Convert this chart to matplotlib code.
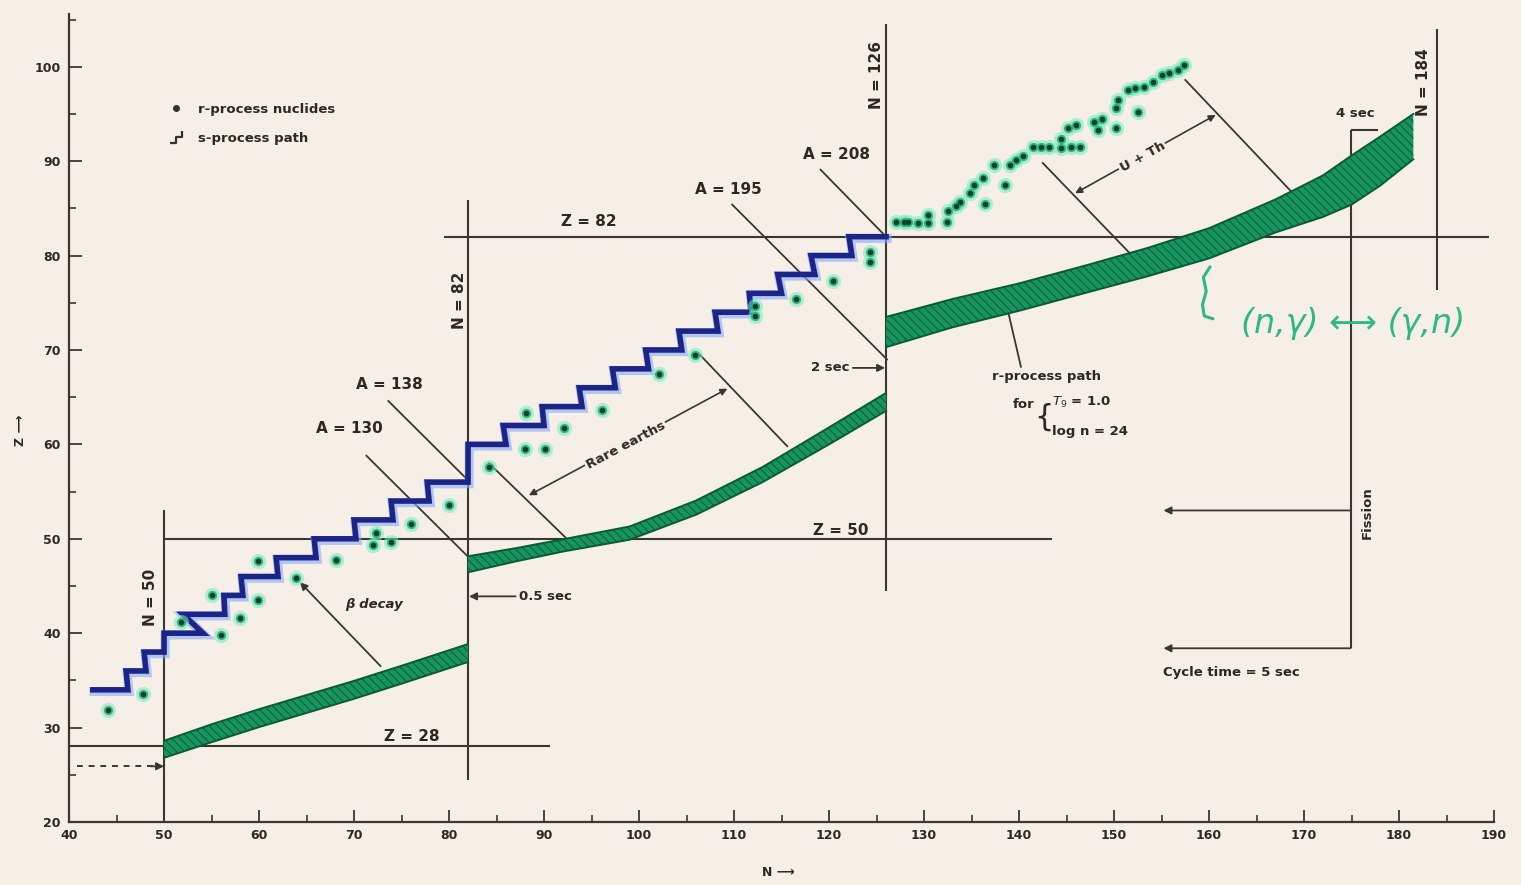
import numpy as np
import matplotlib
matplotlib.use("Agg")
import matplotlib.pyplot as plt
from matplotlib.path import Path
from matplotlib.lines import Line2D

# ---------------- data ----------------
# s-process path: one horizontal run per element (Z, first N, last N)
s_Z = [34, 36, 38, 40, 42, 44, 46, 48, 50, 52, 54, 56,
       60, 62, 64, 66, 68, 70, 72, 74, 76, 78, 80, 82]
s_N_lo = [42.5, 46.0, 47.9, 50.0, 52.0, 56.3, 58.1, 61.8, 65.8, 70.0, 73.9, 77.7,
          82.0, 85.7, 89.8, 93.7, 97.2, 100.7, 104.2, 108.0, 111.6, 114.6, 118.1, 122.1]
s_N_hi = [46.2, 48.1, 50.0, 54.1, 56.4, 58.3, 62.0, 66.0, 70.2, 74.1, 77.9, 82.0,
          86.0, 90.0, 94.0, 97.5, 101.0, 104.5, 108.3, 111.8, 115.0, 118.5, 122.4, 126.0]

# r-process nuclides
r_N = [44.1, 47.8, 51.8, 55.0, 56.0, 58.0, 59.9, 59.9, 63.9, 68.1, 72.0, 72.3, 73.9, 76.0, 80.0,
       84.2, 88.0, 90.1, 88.1, 92.1, 96.1, 102.1, 105.9, 112.2, 112.2, 116.5, 120.4, 124.3, 124.3,
       127.0, 127.9, 128.3, 129.4, 130.4, 130.4, 132.4, 132.5, 133.4, 133.8, 134.8, 135.3, 136.2,
       136.4, 137.4, 138.5, 139.0, 139.7, 140.4, 141.5, 142.3, 143.2, 144.4, 144.4, 145.5, 146.4,
       145.1, 146.0, 147.9, 148.3, 148.7, 150.2, 150.2, 150.4, 151.5, 152.5, 152.2, 153.2, 154.1,
       155.0, 155.8, 156.7, 157.4]
r_Z = [31.9, 33.6, 41.2, 44.0, 39.8, 41.6, 43.5, 47.6, 45.8, 47.8, 49.3, 50.6, 49.7, 51.6, 53.6,
       57.6, 59.5, 59.5, 63.3, 61.7, 63.6, 67.5, 69.5, 73.6, 74.7, 75.4, 77.3, 79.3, 80.4,
       83.6, 83.6, 83.6, 83.4, 83.4, 84.3, 83.6, 84.7, 85.2, 85.7, 86.6, 87.5, 88.2,
       85.5, 89.6, 87.5, 89.6, 90.1, 90.5, 91.5, 91.5, 91.5, 92.4, 91.4, 91.5, 91.5,
       93.5, 93.8, 94.2, 93.3, 94.5, 93.5, 95.6, 96.5, 97.5, 95.2, 97.7, 97.9, 98.4,
       99.1, 99.3, 99.7, 100.2]

# r-process path bands: centre line Z and half width
b1_N = [50, 55, 60, 65, 70, 75, 82]
b1_Z = [27.7, 29.4, 31.0, 32.5, 34.0, 35.6, 37.9]
b1_hw = [0.9, 0.95, 0.95, 0.95, 0.95, 0.95, 0.95]

b2_N = [82, 87, 92, 99, 106, 113, 120, 126]
b2_Z = [47.3, 48.3, 49.3, 50.6, 53.3, 56.8, 60.9, 64.5]
b2_hw = [0.85, 0.7, 0.65, 0.7, 0.75, 0.8, 0.9, 0.95]

b3_N = [126, 133, 140, 147, 153.5, 160, 167, 172, 175, 178, 181.5]
b3_Z = [71.9, 73.9, 75.6, 77.5, 79.3, 81.3, 84.2, 86.3, 88.0, 90.0, 92.6]
b3_hw = [1.6, 1.5, 1.45, 1.45, 1.5, 1.6, 1.75, 2.2, 2.6, 2.6, 2.4]

# closed shells: (Z, N from, N to) and (N, Z from, Z to)
shell_Z = [(28, 40.0, 90.6), (50, 50.0, 143.5), (82, 79.5, 189.5)]
shell_N = [(50, 20.0, 53.1), (82, 24.4, 85.9), (126, 44.5, 104.5), (184, 76.4, 104.0)]

# isobars and decay lines: (N1, Z1, N2, Z2)
isobars = [(71.3, 58.8, 82.0, 48.1),     # A = 130
           (73.6, 64.6, 82.0, 56.2),     # A = 138
           (109.8, 85.4, 126.1, 69.0),   # A = 195
           (119.1, 89.1, 126.0, 82.0),   # A = 208
           (84.2, 58.0, 92.5, 49.9),     # rare earths, lower edge
           (106.3, 69.6, 115.6, 59.8),   # rare earths, upper edge
           (142.5, 89.8, 151.7, 80.2),   # U + Th, lower edge
           (157.5, 98.6, 169.2, 86.2)]   # U + Th, upper edge
beta_decay = (72.8, 36.5, 64.3, 45.4)
rare_earth_span = (88.4, 54.6, 109.3, 65.9)
u_th_span = (145.9, 86.6, 160.7, 94.9)
rpath_pointer = (140.2, 68.2, 138.4, 76.0)

# cycle timing
t_half_N, t_half_Z = 82.0, 43.9
t_two_N, t_two_Z = 126.0, 68.1
fission_N, fission_top, fission_Z, cycle_Z, return_N = 174.9, 93.3, 53.0, 38.4, 155.2
seed_Z = 25.9

# ---------------- style ----------------
BG = "#f5efe8"
INK = "#3b362f"
TXT = "#2d2823"
BAND = "#17955f"
BAND_DARK = "#0b5a37"
NOTE = "#2fb884"
plt.rcParams["hatch.linewidth"] = 0.7

fig = plt.figure(figsize=(15.21, 8.85), dpi=100, facecolor=BG)
ax = fig.add_axes([0.0454, 0.0712, 0.9369, 0.9131], facecolor=BG)
ax.set_xlim(40, 190)
ax.set_ylim(20, 105.6)

for side in ("top", "right"):
    ax.spines[side].set_visible(False)
for side in ("left", "bottom"):
    ax.spines[side].set_color(INK)
    ax.spines[side].set_linewidth(1.6)

ax.set_xticks(np.arange(40, 191, 10))
ax.set_xticks(np.arange(45, 190, 10), minor=True)
ax.set_yticks(np.arange(20, 101, 10))
ax.set_yticks(np.arange(25, 106, 10), minor=True)
ax.tick_params(which="major", direction="in", length=9, width=1.3, color=INK,
               labelsize=9, labelcolor=TXT)
ax.tick_params(which="minor", direction="in", length=5, width=1.2, color=INK)
ax.tick_params(axis="x", pad=5)
ax.tick_params(axis="y", pad=6)
for lab in ax.get_xticklabels() + ax.get_yticklabels():
    lab.set_fontweight("bold")

ax.text(114.7, -0.062, "N ⟶", transform=ax.get_xaxis_transform(),
        ha="center", va="center", fontsize=9, fontweight="bold", color=TXT)
ax.text(-0.034, 61.5, "Z ⟶", transform=ax.get_yaxis_transform(), rotation=90,
        ha="center", va="center", fontsize=9, fontweight="bold", color=TXT)

line_kw = dict(color=INK, lw=1.5, zorder=2, solid_capstyle="butt")

# closed-shell lines
for z, n0, n1 in shell_Z:
    ax.plot([n0, n1], [z, z], **line_kw)
for n, z0, z1 in shell_N:
    ax.plot([n, n], [z0, z1], **line_kw)

# isobars
for n1, z1, n2, z2 in isobars:
    ax.plot([n1, n2], [z1, z2], color=INK, lw=1.3, zorder=2)

arrow_kw = dict(arrowstyle="-|>", color=INK, lw=1.3, mutation_scale=11,
                shrinkA=0, shrinkB=0)
both_kw = dict(arrowstyle="<|-|>", color=INK, lw=1.2, mutation_scale=10,
               shrinkA=0, shrinkB=0)

ax.annotate("", xy=beta_decay[2:], xytext=beta_decay[:2], arrowprops=arrow_kw, zorder=2)
ax.annotate("", xy=rare_earth_span[2:], xytext=rare_earth_span[:2], arrowprops=both_kw)
ax.annotate("", xy=u_th_span[2:], xytext=u_th_span[:2], arrowprops=both_kw)
ax.annotate("", xy=rpath_pointer[2:], xytext=rpath_pointer[:2], arrowprops=arrow_kw)

# timing arrows
ax.annotate("", xy=(t_half_N + 0.1, t_half_Z), xytext=(t_half_N + 5.0, t_half_Z), arrowprops=arrow_kw)
ax.annotate("", xy=(t_two_N - 0.1, t_two_Z), xytext=(t_two_N - 3.5, t_two_Z), arrowprops=arrow_kw)
ax.plot([fission_N, fission_N], [cycle_Z, fission_top], **line_kw)
ax.plot([fission_N, fission_N + 2.9], [fission_top, fission_top], **line_kw)
ax.annotate("", xy=(return_N, fission_Z), xytext=(fission_N, fission_Z), arrowprops=arrow_kw)
ax.annotate("", xy=(return_N, cycle_Z), xytext=(fission_N, cycle_Z), arrowprops=arrow_kw)

# seed nuclei feeding in at N = 50
ax.plot([40.8, 48.8], [seed_Z, seed_Z], color=INK, lw=1.4, ls=(0, (3, 3)), zorder=2)
ax.annotate("", xy=(50.0, seed_Z), xytext=(48.6, seed_Z), arrowprops=arrow_kw)


def band(N, Zc, hw):
    N = np.asarray(N, float)
    Zc = np.asarray(Zc, float)
    hw = np.asarray(hw, float)
    top, bot = Zc + hw, Zc - hw
    ax.fill(np.r_[N, N[::-1]], np.r_[top, bot[::-1]], facecolor=BAND,
            edgecolor=BAND_DARK, hatch="\\\\\\\\", linewidth=0, zorder=3)
    ax.plot(N, top, color=BAND_DARK, lw=1.4, zorder=3)
    ax.plot(N, bot, color=BAND_DARK, lw=1.4, zorder=3)


band(b1_N, b1_Z, b1_hw)
band(b2_N, b2_Z, b2_hw)
band(b3_N, b3_Z, b3_hw)

# s-process path: pale blue halo under a dark blue line
sx, sy = [], []
for z, lo, hi in zip(s_Z, s_N_lo, s_N_hi):
    sx += [lo, hi]
    sy += [z, z]
ax.plot(np.array(sx) + 0.12, np.array(sy) - 0.18, color="#86acf6", lw=6.5,
        alpha=0.6, zorder=4, solid_joinstyle="miter")
ax.plot(sx, sy, color="#1d2487", lw=4.0, zorder=5, solid_joinstyle="miter")

# r-process nuclides
ax.scatter(r_N, r_Z, s=120, color="#74ecbb", alpha=0.55, lw=0, zorder=6)
ax.scatter(r_N, r_Z, s=45, color="#29b07a", alpha=0.9, lw=0, zorder=7)
ax.scatter(r_N, r_Z, s=16, color="#0f3f2b", lw=0, zorder=8)

# legend
stair = Path([(-1, -1), (0, -1), (0, 0), (1, 0), (1, 1)],
             [Path.MOVETO, Path.LINETO, Path.LINETO, Path.LINETO, Path.LINETO])
handles = [Line2D([], [], ls="none", marker="o", ms=4, color="#333"),
           Line2D([], [], ls="none", marker=stair, ms=9, mew=1.6, mfc="none", color="#333")]
leg = ax.legend(handles, ["r-process nuclides", "s-process path"], loc="upper left",
                bbox_to_anchor=(0.062, 0.905), frameon=False, fontsize=9.5,
                labelspacing=1.25, handletextpad=1.2, handlelength=1.0)
for t in leg.get_texts():
    t.set_fontweight("bold")
    t.set_color(TXT)

# labels
lab_kw = dict(fontsize=11, fontweight="bold", color=TXT, ha="center", va="center")
ax.text(94.7, 83.6, "Z = 82", **lab_kw)
ax.text(121.2, 50.9, "Z = 50", **lab_kw)
ax.text(76.1, 29.1, "Z = 28", **lab_kw)
ax.text(69.5, 61.7, "A = 130", **lab_kw)
ax.text(73.7, 66.3, "A = 138", **lab_kw)
ax.text(109.4, 87.0, "A = 195", **lab_kw)
ax.text(120.8, 90.7, "A = 208", **lab_kw)
ax.text(48.6, 43.8, "N = 50", rotation=90, **lab_kw)
ax.text(81.1, 75.3, "N = 82", rotation=90, **lab_kw)
ax.text(125.0, 99.1, "N = 126", rotation=90, **lab_kw)
ax.text(182.6, 98.4, "N = 184", rotation=90, **lab_kw)

small = dict(fontsize=9.5, fontweight="bold", color=TXT, va="center")
ax.text(72.1, 43.0, "β decay", ha="center", style="italic", **small)
ax.text(87.4, t_half_Z, "0.5 sec", ha="left", **small)
ax.text(122.2, t_two_Z, "2 sec", ha="right", **small)
ax.text(175.4, 95.1, "4 sec", ha="center", **small)
ax.text(98.6, 59.9, "Rare earths", ha="center", rotation=28, rotation_mode="anchor",
        bbox=dict(facecolor=BG, edgecolor="none", pad=1.0), **small)
ax.text(153.0, 90.4, "U + Th", ha="center", rotation=29, rotation_mode="anchor",
        bbox=dict(facecolor=BG, edgecolor="none", pad=1.0), **small)
ax.text(142.9, 67.2, "r-process path", ha="center", **small)
ax.text(141.6, 64.2, "for", ha="right", **small)
ax.text(142.6, 62.9, "{", ha="center", fontsize=22, color=TXT, va="center")
ax.text(143.5, 64.4, "$T_9$ = 1.0", ha="left", **small)
ax.text(143.5, 61.4, "log n = 24", ha="left", **small)
ax.text(176.6, 52.8, "Fission", rotation=90, ha="center", **small)
ax.text(155.1, 35.8, "Cycle time = 5 sec", ha="left", **small)

# margin note in green ink
ax.plot([160.1, 159.4, 159.7, 159.3, 159.5, 160.4], [78.8, 77.7, 76.2, 74.8, 73.6, 73.3],
        color=NOTE, lw=2.2, solid_capstyle="round", zorder=6)
ax.text(163.4, 72.8, "(n,γ) ⟷ (γ,n)", ha="left", va="center", fontsize=24,
        style="italic", color=NOTE, clip_on=False)

fig.savefig("out.png", dpi=100, facecolor=BG)
